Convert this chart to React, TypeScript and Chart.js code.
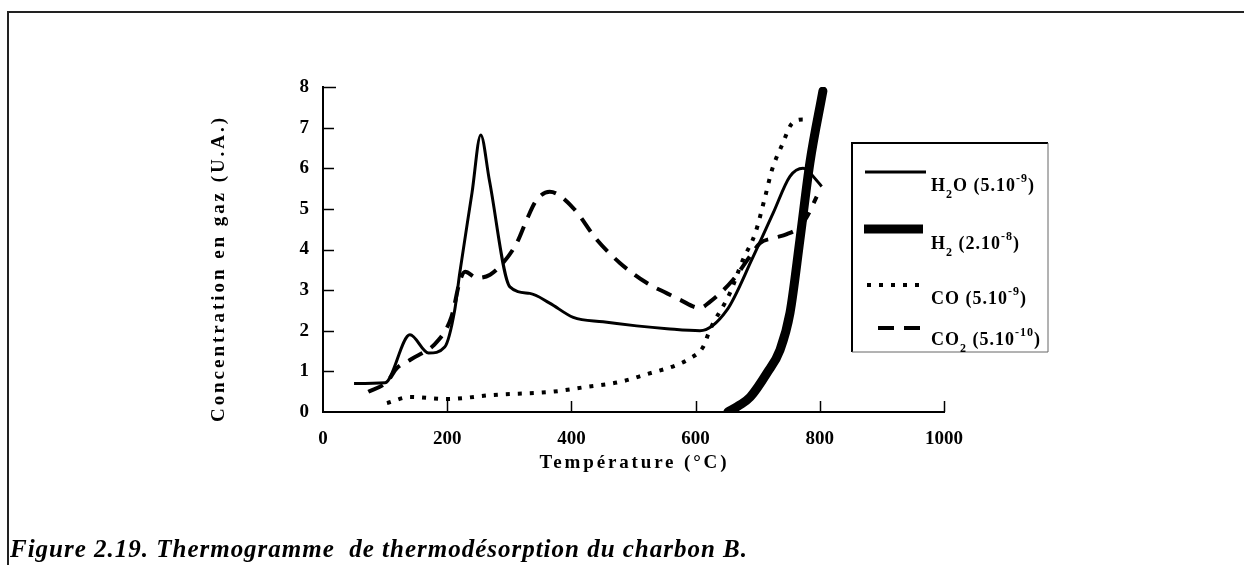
import React, { useEffect, useRef } from 'react';
import { Chart, registerables } from 'chart.js';

Chart.register(...registerables);

const FONT = '"Liberation Serif", "DejaVu Serif", "Times New Roman", serif';

// ---- data ----
const xTicks = [0, 200, 400, 600, 800, 1000];
const yTicks = [0, 1, 2, 3, 4, 5, 6, 7, 8];

const h2oT = [50, 100, 140, 170, 196, 212, 220, 240, 254, 268, 301, 333, 365, 403, 451, 505, 554, 607, 650, 692, 725, 752, 773, 795, 803];
const h2oV = [0.7, 0.72, 1.9, 1.45, 1.6, 2.5, 3.4, 5.4, 6.82, 5.7, 3.08, 2.92, 2.68, 2.33, 2.22, 2.12, 2.05, 2.0, 2.5, 3.8, 4.9, 5.8, 6.0, 5.7, 5.55];

const h2T = [652, 671, 688, 715, 736, 752, 768, 784, 805];
const h2V = [0, 0.17, 0.37, 0.96, 1.53, 2.44, 4.24, 6.13, 7.9];

const coT = [103, 140, 199, 274, 370, 425, 478, 521, 570, 591, 612, 623, 655, 676, 696, 712, 723, 740, 755, 773, 780];
const coV = [0.22, 0.37, 0.32, 0.42, 0.5, 0.62, 0.74, 0.93, 1.16, 1.32, 1.6, 2.02, 2.92, 3.74, 4.4, 5.3, 5.96, 6.6, 7.1, 7.2, 7.15];

const co2T = [73, 103, 119, 140, 186, 207, 221, 229, 248, 269, 290, 312, 328, 344, 365, 403, 441, 478, 521, 554, 575, 607, 623, 660, 687, 704, 725, 747, 768, 779, 795];
const co2V = [0.5, 0.74, 1.08, 1.28, 1.77, 2.35, 3.25, 3.45, 3.3, 3.38, 3.67, 4.16, 4.73, 5.22, 5.42, 5.02, 4.24, 3.67, 3.18, 2.92, 2.76, 2.56, 2.71, 3.25, 3.82, 4.16, 4.28, 4.38, 4.56, 4.8, 5.3];

type Part = { t: string; k: 'n' | 'sub' | 'sup' };
const legendH2O: Part[] = [{ t: 'H', k: 'n' }, { t: '2', k: 'sub' }, { t: 'O (5.10', k: 'n' }, { t: '-9', k: 'sup' }, { t: ')', k: 'n' }];
const legendH2: Part[] = [{ t: 'H', k: 'n' }, { t: '2', k: 'sub' }, { t: ' (2.10', k: 'n' }, { t: '-8', k: 'sup' }, { t: ')', k: 'n' }];
const legendCO: Part[] = [{ t: 'CO (5.10', k: 'n' }, { t: '-9', k: 'sup' }, { t: ')', k: 'n' }];
const legendCO2: Part[] = [{ t: 'CO', k: 'n' }, { t: '2', k: 'sub' }, { t: ' (5.10', k: 'n' }, { t: '-10', k: 'sup' }, { t: ')', k: 'n' }];

const xTitle = 'Température (°C)';
const yTitle = 'Concentration en gaz (U.A.)';
const caption = 'Figure 2.19. Thermogramme  de thermodésorption du charbon B.';

const pts = (xs: number[], ys: number[]) => xs.map((x, i) => ({ x, y: ys[i] }));

function fitText(ctx: CanvasRenderingContext2D, text: string, left: number, y: number, width: number, font: string) {
  ctx.font = font;
  (ctx as any).letterSpacing = '0px';
  const w0 = ctx.measureText(text).width;
  const ls = (width - w0) / Math.max(1, text.length - 1);
  (ctx as any).letterSpacing = ls + 'px';
  ctx.textAlign = 'left';
  ctx.textBaseline = 'alphabetic';
  ctx.fillText(text, left, y);
  (ctx as any).letterSpacing = '0px';
}

function drawRich(ctx: CanvasRenderingContext2D, parts: Part[], x: number, baseline: number) {
  let cx = x;
  ctx.textAlign = 'left';
  ctx.textBaseline = 'alphabetic';
  (ctx as any).letterSpacing = '1px';
  for (const p of parts) {
    if (p.k === 'n') {
      ctx.font = `bold 18px ${FONT}`;
      ctx.fillText(p.t, cx, baseline);
    } else if (p.k === 'sub') {
      ctx.font = `bold 12px ${FONT}`;
      ctx.fillText(p.t, cx, baseline + 7);
    } else {
      ctx.font = `bold 12px ${FONT}`;
      ctx.fillText(p.t, cx, baseline - 9);
    }
    cx += ctx.measureText(p.t).width;
  }
  (ctx as any).letterSpacing = '0px';
}

const decorPlugin = {
  id: 'decor',
  afterDraw(chart: any) {
    const ctx: CanvasRenderingContext2D = chart.ctx;
    const xs = chart.scales.x;
    const ys = chart.scales.y;
    const area = chart.chartArea;
    ctx.save();
    ctx.strokeStyle = '#000';
    ctx.fillStyle = '#000';
    // inward tick marks
    ctx.lineWidth = 1.5;
    for (const v of xTicks) {
      if (v === 0) continue;
      const px = Math.round(xs.getPixelForValue(v)) + 0.5;
      ctx.beginPath();
      ctx.moveTo(px, area.bottom);
      ctx.lineTo(px, area.bottom - 11);
      ctx.stroke();
    }
    for (const v of yTicks) {
      if (v === 0) continue;
      const py = Math.round(ys.getPixelForValue(v)) + 0.5;
      ctx.beginPath();
      ctx.moveTo(area.left, py);
      ctx.lineTo(area.left + (v === 8 ? 13 : 11), py);
      ctx.stroke();
    }

    // axis titles
    const cx = (area.left + area.right) / 2;
    fitText(ctx, xTitle, cx - 94, 468, 187, `bold 19px ${FONT}`);
    ctx.save();
    ctx.translate(224, 270);
    ctx.rotate(-Math.PI / 2);
    fitText(ctx, yTitle, -152, 0, 304, `bold 19px ${FONT}`);
    ctx.restore();

    // legend box
    ctx.lineWidth = 2;
    ctx.beginPath();
    ctx.moveTo(852, 352);
    ctx.lineTo(852, 143);
    ctx.lineTo(1048, 143);
    ctx.stroke();
    ctx.lineWidth = 1;
    ctx.strokeStyle = '#666';
    ctx.beginPath();
    ctx.moveTo(1048, 143);
    ctx.lineTo(1048, 352);
    ctx.lineTo(852, 352);
    ctx.stroke();
    ctx.strokeStyle = '#000';

    const ds = chart.data.datasets;
    const entries = [
      { d: ds[0], y: 172, x0: 865, x1: 926, parts: legendH2O, base: 191 },
      { d: ds[1], y: 229, x0: 864, x1: 923, parts: legendH2, base: 249 },
      { d: ds[2], y: 285, x0: 867, x1: 924, parts: legendCO, base: 304 },
      { d: ds[3], y: 328, x0: 878, x1: 924, parts: legendCO2, base: 345 },
    ];
    for (const e of entries) {
      ctx.save();
      ctx.lineWidth = e.d.borderWidth;
      ctx.setLineDash(e.d.borderDash || []);
      ctx.lineCap = 'butt';
      ctx.beginPath();
      ctx.moveTo(e.x0, e.y);
      ctx.lineTo(e.x1, e.y);
      ctx.stroke();
      ctx.restore();
      drawRich(ctx, e.parts, 931, e.base);
    }

    // caption
    fitText(ctx, caption, 10, 557, 737, `italic bold 25px ${FONT}`);

    // page frame
    ctx.strokeStyle = '#222';
    ctx.lineWidth = 2;
    ctx.beginPath();
    ctx.moveTo(8, 565);
    ctx.lineTo(8, 12);
    ctx.lineTo(1244, 12);
    ctx.stroke();
    ctx.restore();
  },
};

export default function App() {
  const ref = useRef<HTMLCanvasElement>(null);
  useEffect(() => {
    document.body.style.margin = '0';
    const canvas = ref.current;
    if (!canvas) return;
    const tickFont = { family: FONT, size: 19, weight: 'bold' as const };
    const chart = new Chart(canvas, {
      type: 'scatter',
      data: {
        datasets: [
          { label: 'H2O', data: pts(h2oT, h2oV), showLine: true, borderColor: '#000', backgroundColor: '#000', borderWidth: 3, pointRadius: 0, cubicInterpolationMode: 'monotone', order: 2 } as any,
          { label: 'H2', data: pts(h2T, h2V), showLine: true, borderColor: '#000', backgroundColor: '#000', borderWidth: 9, borderCapStyle: 'round', pointRadius: 0, cubicInterpolationMode: 'monotone', order: 0 } as any,
          { label: 'CO', data: pts(coT, coV), showLine: true, borderColor: '#000', backgroundColor: '#000', borderWidth: 4, borderDash: [4, 8], pointRadius: 0, cubicInterpolationMode: 'monotone', order: 3 } as any,
          { label: 'CO2', data: pts(co2T, co2V), showLine: true, borderColor: '#000', backgroundColor: '#000', borderWidth: 4, borderDash: [16, 10], pointRadius: 0, cubicInterpolationMode: 'monotone', order: 1 } as any,
        ],
      },
      options: {
        responsive: false,
        animation: false,
        devicePixelRatio: 1,
        layout: { padding: { left: 0, top: 87, right: 300, bottom: 0 } },
        plugins: { legend: { display: false }, tooltip: { enabled: false } },
        scales: {
          x: {
            type: 'linear',
            min: 0,
            max: 1000,
            afterBuildTicks: (s: any) => { s.ticks = xTicks.map((v) => ({ value: v })); },
            afterFit: (s: any) => { s.height = 153; },
            grid: { display: false, drawTicks: false },
            border: { display: true, color: '#000', width: 2 },
            ticks: { padding: 16, color: '#000', font: tickFont, maxRotation: 0, autoSkip: false, callback: (v: any) => String(v) },
          },
          y: {
            type: 'linear',
            min: 0,
            max: 8,
            afterBuildTicks: (s: any) => { s.ticks = yTicks.map((v) => ({ value: v })); },
            afterFit: (s: any) => { s.width = 323; },
            grid: { display: false, drawTicks: false },
            border: { display: true, color: '#000', width: 2 },
            ticks: { padding: 14, color: '#000', font: tickFont, autoSkip: false, callback: (v: any) => String(v) },
          },
        },
      } as any,
      plugins: [decorPlugin],
    });
    return () => chart.destroy();
  }, []);
  return <canvas ref={ref} width={1244} height={565} style={{ display: 'block', width: 1244, height: 565 }} />;
}
